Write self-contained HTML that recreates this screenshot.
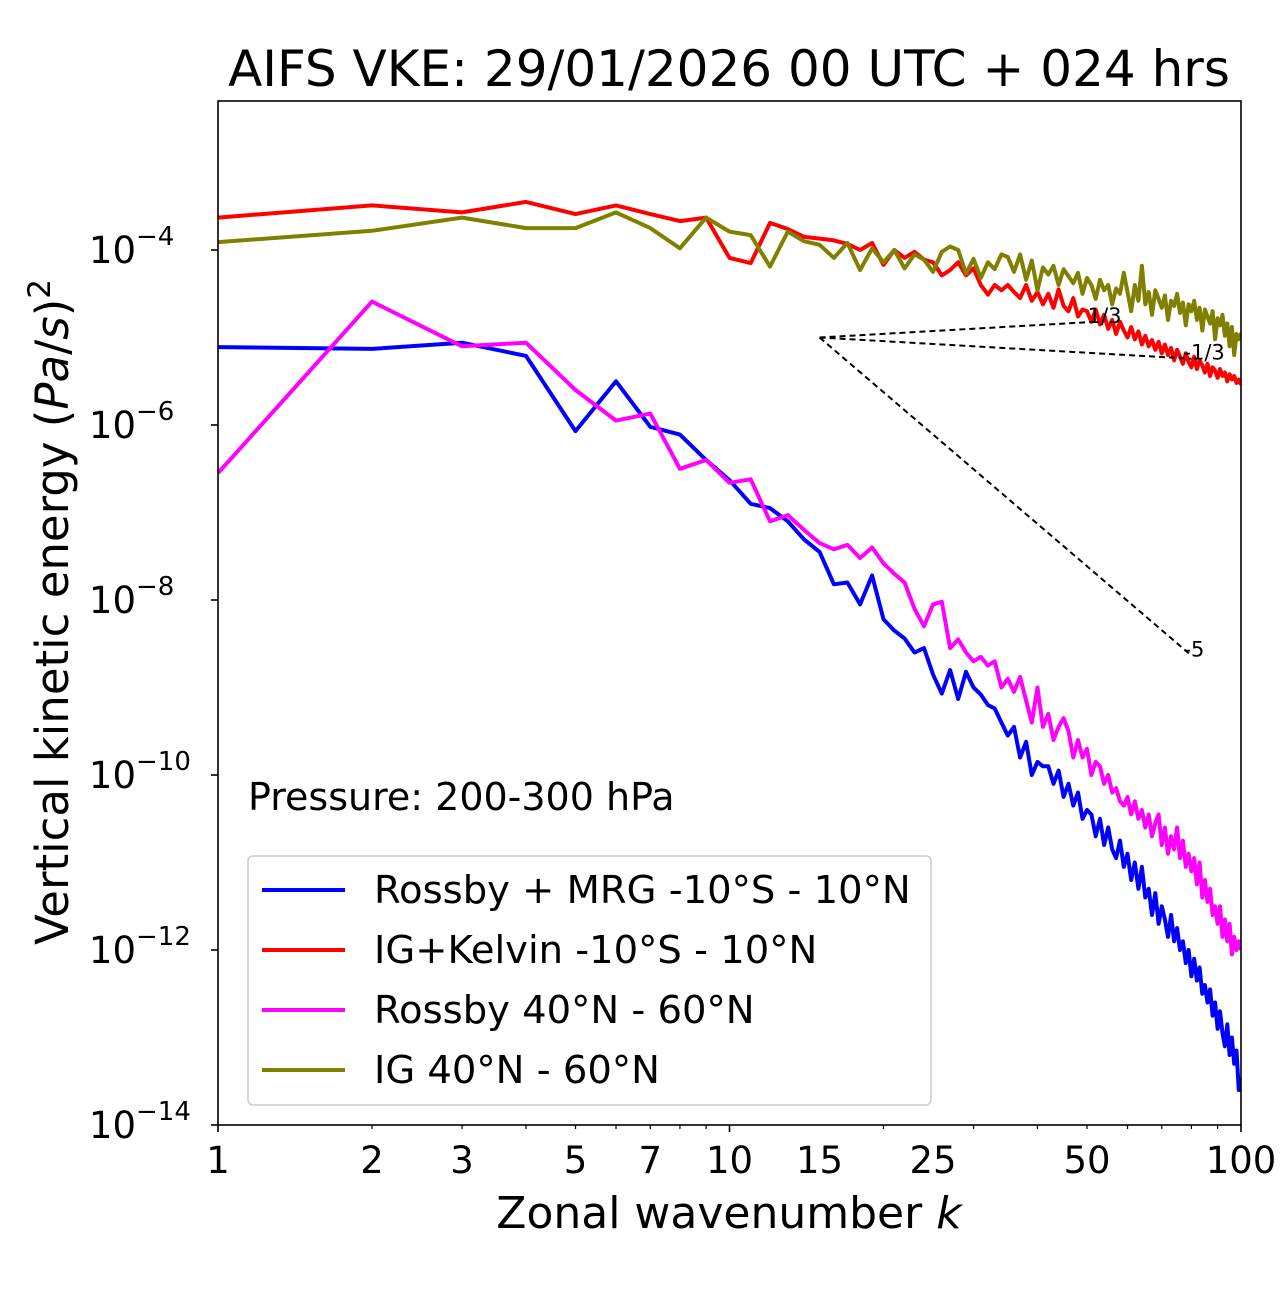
<!DOCTYPE html>
<html><head><meta charset="utf-8"><style>
body{margin:0;background:#fff;}
svg text{font-family:"DejaVu Sans","Liberation Sans",sans-serif;fill:#000;}
</style></head><body>
<svg id="chart" width="1280" height="1288" xmlns="http://www.w3.org/2000/svg">
<rect width="1280" height="1288" fill="#fff"/>
<text x="729" y="86" font-size="50" text-anchor="middle">AIFS VKE: 29/01/2026 00 UTC + 024 hrs</text>
<g id="plot"></g>
<g id="axes"></g>
<text x="729" y="1228" font-size="44" text-anchor="middle">Zonal wavenumber <tspan font-style="italic">k</tspan></text>
<text transform="translate(68,612) rotate(-90)" font-size="45" text-anchor="middle">Vertical kinetic energy (<tspan font-style="italic">Pa</tspan>/<tspan font-style="italic">s</tspan>)<tspan font-size="31" dy="-18">2</tspan></text>
<text x="248" y="810" font-size="38">Pressure: 200-300 hPa</text>
<g>
<rect x="248" y="856" width="683" height="249" rx="5" fill="#fff" stroke="#ccc" stroke-width="1.5"/>
<line x1="262" y1="890" x2="345" y2="890" stroke="#0000ff" stroke-width="4"/>
<text x="374" y="903" font-size="38.5">Rossby + MRG -10°S - 10°N</text>
<line x1="262" y1="950" x2="345" y2="950" stroke="#ff0000" stroke-width="4"/>
<text x="374" y="963" font-size="38.5">IG+Kelvin -10°S - 10°N</text>
<line x1="262" y1="1010" x2="345" y2="1010" stroke="#ff00ff" stroke-width="4"/>
<text x="374" y="1023" font-size="38.5">Rossby 40°N - 60°N</text>
<line x1="262" y1="1070" x2="345" y2="1070" stroke="#808000" stroke-width="4"/>
<text x="374" y="1083" font-size="38.5">IG 40°N - 60°N</text>
</g>
</svg>
<script>
const redLog=[-3.63,-3.49,-3.57,-3.45,-3.59,-3.49,-3.59,-3.67,-3.63,-4.09,-4.15,-3.69,-3.76,-3.85,-3.87,-3.89,-3.93,-4.00,-3.92,-4.17,-4.0,-4.09,-4.02,-4.11,-4.14,-4.29,-4.23,-4.14,-4.29,-4.21,-4.40,-4.51,-4.40,-4.46,-4.40,-4.48,-4.55,-4.40,-4.58,-4.48,-4.62,-4.50,-4.66,-4.45,-4.64,-4.70,-4.55,-4.76,-4.68,-4.70,-4.82,-4.68,-4.85,-4.74,-4.90,-4.80,-4.96,-4.82,-4.92,-5.00,-4.88,-5.02,-4.93,-5.08,-4.98,-5.10,-5.03,-5.14,-5.05,-5.18,-5.08,-5.20,-5.12,-5.26,-5.14,-5.22,-5.30,-5.18,-5.28,-5.34,-5.22,-5.36,-5.26,-5.32,-5.40,-5.30,-5.44,-5.34,-5.38,-5.46,-5.36,-5.44,-5.40,-5.50,-5.42,-5.48,-5.44,-5.52,-5.48,-5.54];
const oliveLog=[-3.91,-3.78,-3.63,-3.75,-3.75,-3.57,-3.75,-3.98,-3.63,-3.79,-3.83,-4.19,-3.79,-3.90,-3.94,-4.09,-3.92,-4.23,-3.98,-4.14,-4.0,-4.21,-4.05,-4.11,-4.25,-4.02,-3.96,-4.0,-4.27,-4.10,-4.32,-4.14,-4.22,-4.05,-4.08,-4.25,-4.05,-4.34,-4.12,-4.46,-4.20,-4.28,-4.18,-4.40,-4.22,-4.30,-4.38,-4.26,-4.50,-4.32,-4.40,-4.56,-4.34,-4.46,-4.40,-4.62,-4.44,-4.50,-4.26,-4.48,-4.70,-4.40,-4.58,-4.18,-4.62,-4.48,-4.74,-4.46,-4.56,-4.66,-4.52,-4.80,-4.58,-4.64,-4.50,-4.72,-4.60,-4.86,-4.62,-4.70,-4.58,-4.80,-4.66,-4.92,-4.68,-4.76,-4.84,-4.70,-5.02,-4.78,-4.86,-4.74,-4.98,-4.84,-5.10,-4.88,-5.20,-4.96,-5.02,-4.95];
const blueLog=[-5.11,-5.13,-5.06,-5.21,-6.07,-5.50,-6.02,-6.11,-6.40,-6.63,-6.90,-6.95,-7.10,-7.31,-7.45,-7.82,-7.80,-8.05,-7.72,-8.22,-8.35,-8.44,-8.60,-8.55,-8.85,-9.07,-8.80,-9.13,-8.82,-9.0,-9.08,-9.20,-9.24,-9.40,-9.55,-9.45,-9.80,-9.62,-10.0,-9.85,-9.9,-9.9,-10.1,-9.95,-10.25,-10.1,-10.35,-10.2,-10.5,-10.4,-10.45,-10.7,-10.5,-10.8,-10.6,-10.85,-10.95,-10.75,-11.05,-10.9,-11.2,-11.0,-11.3,-11.05,-11.4,-11.3,-11.6,-11.35,-11.7,-11.5,-11.65,-11.85,-11.6,-11.9,-11.75,-12.0,-11.9,-12.15,-12.0,-12.3,-12.1,-12.35,-12.2,-12.5,-12.4,-12.6,-12.45,-12.75,-12.6,-12.9,-12.7,-12.95,-13.1,-12.85,-13.2,-13.0,-13.3,-13.15,-13.6,-13.45];
const magentaLog=[-6.55,-4.59,-5.10,-5.06,-5.60,-5.95,-5.87,-6.50,-6.40,-6.66,-6.62,-7.10,-7.03,-7.20,-7.35,-7.42,-7.37,-7.52,-7.40,-7.58,-7.70,-7.80,-8.10,-8.30,-8.05,-8.02,-8.55,-8.45,-8.60,-8.70,-8.65,-8.75,-8.70,-9.0,-8.90,-9.05,-8.88,-9.15,-9.40,-9.0,-9.45,-9.30,-9.60,-9.45,-9.35,-9.50,-9.80,-9.60,-9.80,-9.70,-10.0,-9.85,-9.90,-10.1,-10.0,-10.2,-10.15,-10.3,-10.35,-10.25,-10.45,-10.3,-10.5,-10.4,-10.6,-10.45,-10.7,-10.55,-10.45,-10.8,-10.6,-10.9,-10.7,-10.85,-10.6,-10.95,-10.75,-11.05,-10.9,-11.1,-10.95,-11.25,-11.0,-11.4,-11.2,-11.45,-11.3,-11.6,-11.5,-11.7,-11.5,-11.85,-11.65,-11.9,-11.7,-12.05,-11.85,-12.0,-11.9,-12.0];
const xTickLabels=[1,2,3,5,7,10,15,25,50,100];
const yTickExps=[-4,-6,-8,-10,-12,-14];
const refSlopes=[1/3,-1/3,-5];
const refLabels=["1/3","-1/3","-5"];
const refEnds=[52,80,80];

const X0=218,X1=1241,Y0=101,Y1=1125;
const yMinExp=-14, pxPerDec=87.5;
function xs(k){return X0+(X1-X0)*Math.log10(k)/2;}
function ysLog(l){return Y1-(l-yMinExp)*pxPerDec;}
const NS="http://www.w3.org/2000/svg";
const plot=document.getElementById('plot'), axes=document.getElementById('axes');
function mk(tag,attrs,parent){const e=document.createElementNS(NS,tag);for(const k in attrs)e.setAttribute(k,attrs[k]);parent.appendChild(e);return e;}

const clip=mk('clipPath',{id:'pc'},plot);mk('rect',{x:X0,y:Y0,width:X1-X0,height:Y1-Y0},clip);
const g=mk('g',{'clip-path':'url(#pc)'},plot);
const series=[[blueLog,'#0000ff','rossby-mrg-line'],[redLog,'#ff0000','ig-kelvin-line'],[magentaLog,'#ff00ff','rossby-midlat-line'],[oliveLog,'#808000','ig-midlat-line']];
series.forEach(s=>{
  const pts=s[0].map((v,i)=>xs(i+1).toFixed(1)+','+ysLog(v).toFixed(1)).join(' ');
  const p=mk('polyline',{points:pts,fill:'none',stroke:s[1],'stroke-width':4,'stroke-linejoin':'round'},g);
  
  
});
const k0=15,l0=-5.0;
refSlopes.forEach((sl,i)=>{
  const k1=refEnds[i], l1=l0+sl*Math.log10(k1/k0);
  const ln=mk('line',{x1:xs(k0),y1:ysLog(l0),x2:xs(k1),y2:ysLog(l1),stroke:'#000','stroke-width':2,'stroke-dasharray':'6,4'},plot);
  
  
  const t=mk('text',{x:xs(k1)-8,y:ysLog(l1)+1,'font-size':21},plot);
  t.textContent=refLabels[i];
  
  
});
const fr=mk('rect',{x:X0,y:Y0,width:X1-X0,height:Y1-Y0,fill:'none',stroke:'#000','stroke-width':1.6},axes);


for(let d=0;d<2;d++)for(let m=1;m<=9;m++){const k=m*Math.pow(10,d);const x=xs(k);
  mk('line',{x1:x,y1:Y1,x2:x,y2:Y1+(m===1?7:4),stroke:'#000','stroke-width':m===1?1.6:1.2},axes);}
mk('line',{x1:X1,y1:Y1,x2:X1,y2:Y1+7,stroke:'#000','stroke-width':1.6},axes);
xTickLabels.forEach(k=>{const t=mk('text',{x:xs(k),y:Y1+48,'font-size':37,'text-anchor':'middle'},axes);t.textContent=k;
  
  });
yTickExps.forEach(e=>{const y=ysLog(e);
  mk('line',{x1:X0-7,y1:y,x2:X0,y2:y,stroke:'#000','stroke-width':1.6},axes);
  const t=mk('text',{x:X0-82,y:y+13,'font-size':37,'text-anchor':'end'},axes);
  t.textContent='10';
  
  
  const s=mk('text',{x:X0-82,y:y-5,'font-size':26,'text-anchor':'start'},axes);
  s.textContent='\u2212'+Math.abs(e);
});
</script>
</body></html>
